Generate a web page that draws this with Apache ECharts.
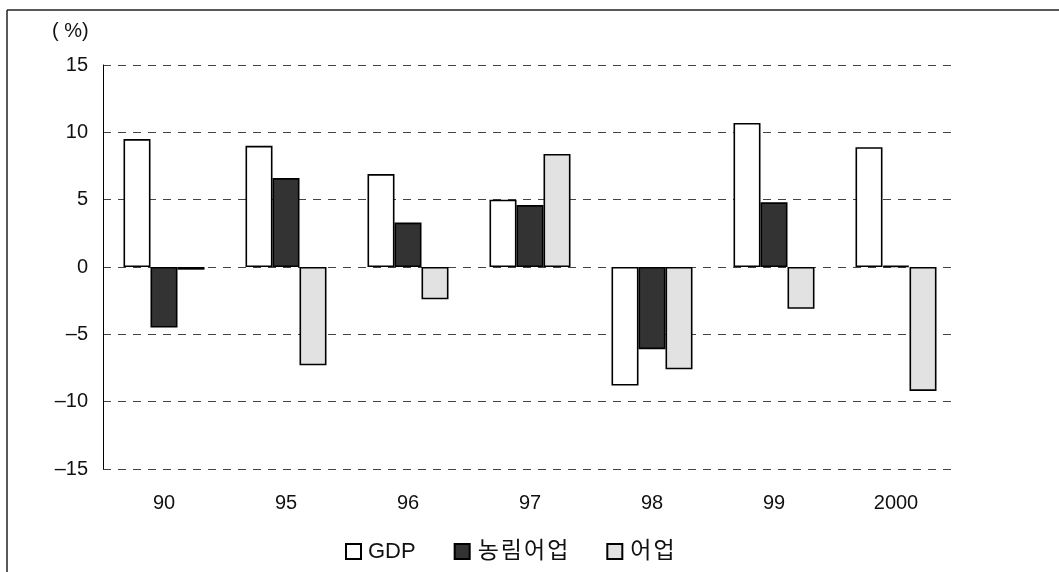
<!DOCTYPE html>
<html>
<head>
<meta charset="utf-8">
<script src="https://cdn.jsdelivr.net/npm/echarts@6/dist/echarts.min.js"></script>
<style>
  html, body { margin: 0; padding: 0; background: #fff; }
  #chart { width: 1059px; height: 572px; }
</style>
</head>
<body>
<div id="chart"></div>
<script>
// Growth rates by year (%)
const years = ['90', '95', '96', '97', '98', '99', '2000'];
const gdp = [9.5, 9.0, 6.9, 5.0, -8.8, 10.7, 8.9];
const agriForestFish = [-4.5, 6.6, 3.3, 4.6, -6.1, 4.8, 0.1];
const fishery = [-0.2, -7.3, -2.4, 8.4, -7.6, -3.1, -9.2];
const yTicks = [-15, -10, -5, 0, 5, 10, 15];
const seriesNames = ['GDP', '농림어업', '어업'];

const FONT = "'Liberation Sans', 'Noto Sans CJK KR', sans-serif";

const chart = echarts.init(document.getElementById('chart'), null, { renderer: 'canvas' });

const barBorder = { borderColor: '#000', borderWidth: 1.6 };

// Hangul legend names are drawn glyph by glyph so they get a little tracking
function legendLabel(name) {
  if (/^[A-Za-z]+$/.test(name)) return '{l|' + name + '}';
  return Array.from(name).map(c => '{k|' + c + '}').join('');
}

chart.setOption({
  animation: false,
  backgroundColor: '#fff',
  grid: { left: 103, right: 102, top: 65, bottom: 103 },
  graphic: [
    // outer frame (top and left edges)
    { type: 'line', shape: { x1: 7, y1: 10, x2: 1059, y2: 10 }, style: { stroke: '#222', lineWidth: 1.5 } },
    { type: 'line', shape: { x1: 7, y1: 10, x2: 7, y2: 572 }, style: { stroke: '#222', lineWidth: 1.5 } },
    { type: 'text', left: 52, top: 21, style: { text: '( %)', font: '20px ' + FONT, fill: '#111' } }
  ],
  legend: {
    bottom: 4,
    left: 340,
    itemWidth: 15,
    itemHeight: 15,
    itemGap: 38,
    icon: 'rect',
    formatter: legendLabel,
    textStyle: {
      fontFamily: FONT, fontSize: 22, color: '#111', padding: [0, 0, 0, 2],
      rich: {
        l: { fontFamily: FONT, fontSize: 22, color: '#111' },
        k: { fontFamily: FONT, fontSize: 23, color: '#111', padding: [0, 1, 0, 1] }
      }
    },
    data: seriesNames
  },
  xAxis: {
    type: 'category',
    data: years,
    axisLine: { show: false },
    axisTick: { show: false },
    axisLabel: { margin: 24, fontFamily: FONT, fontSize: 20, color: '#111' }
  },
  yAxis: {
    type: 'value',
    min: yTicks[0],
    max: yTicks[yTicks.length - 1],
    interval: 5,
    axisLine: { show: true, lineStyle: { color: '#000', width: 1 } },
    axisTick: { show: false },
    axisLabel: {
      margin: 15,
      fontFamily: FONT,
      fontSize: 20,
      color: '#111',
      formatter: v => (v < 0 ? '\u2013' + Math.abs(v) : String(v))
    },
    splitLine: { show: true, lineStyle: { color: '#444', type: [8, 7], width: 1 } }
  },
  series: [
    {
      name: seriesNames[0], type: 'bar', data: gdp, barWidth: 27, barGap: '0%',
      itemStyle: Object.assign({ color: '#fff' }, barBorder)
    },
    {
      name: seriesNames[1], type: 'bar', data: agriForestFish, barWidth: 27,
      itemStyle: Object.assign({ color: '#333' }, barBorder)
    },
    {
      name: seriesNames[2], type: 'bar', data: fishery, barWidth: 27,
      itemStyle: Object.assign({ color: '#e2e2e2' }, barBorder)
    }
  ]
});
</script>
</body>
</html>
